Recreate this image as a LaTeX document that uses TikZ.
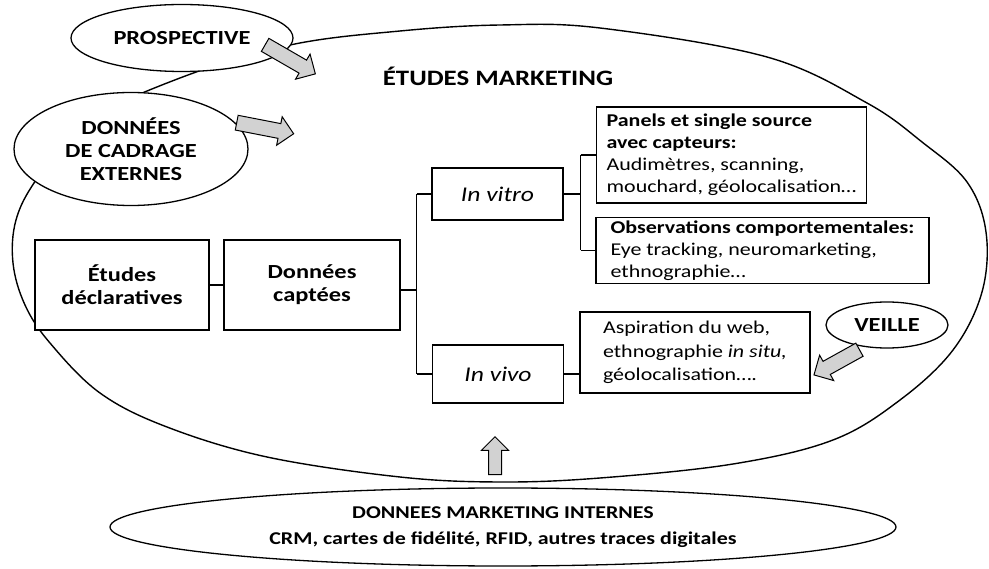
\documentclass[tikz,border=0pt]{standalone}
\usepackage{fontspec}
\setmainfont{Carlito}[FakeStretch=1.22]
\usetikzlibrary{shapes.geometric,shapes.arrows}
\begin{document}
\begin{tikzpicture}[x=1pt,y=-1pt,
  capsfont/.style={font=\fontsize{20}{23}\selectfont\bfseries},
  boxfont/.style={font=\fontsize{18}{22}\selectfont},
  oval/.style={ellipse, draw, line width=1.3pt, fill=white, inner sep=0pt},
  box/.style={draw, line width=1.4pt, fill=white, inner sep=0pt},
  link/.style={line width=1.4pt},
  blockarrow/.style={single arrow, draw, line width=1pt, fill=gray!35,
    inner xsep=0pt, inner ysep=7pt, single arrow head extend=7pt}
]
\useasboundingbox (0,0) rectangle (989,569);

% the large hand-drawn oval holding the marketing studies
\draw[line width=1.4pt] plot[smooth cycle, tension=0.6] coordinates {
  (500,25) (600,28) (767,57) (867,103) (922,142) (967,182) (986,232)
  (982,292) (953,350) (900,400) (833,440) (733,464) (600,478) (500,482)
  (400,477) (267,457) (167,427) (100,393) (50,343) (25,305) (13,263)
  (16,220) (36,180) (80,125) (180,78) (290,45) (400,31)};
\node[font=\fontsize{22}{26}\selectfont\bfseries] (titre) at (498,76) {ÉTUDES MARKETING};

% outside sources
\node[oval, capsfont, minimum width=222pt, minimum height=67pt] (prosp) at (182,38) {PROSPECTIVE};
\node[oval, capsfont, align=center, minimum width=234pt, minimum height=113pt] (cadrage) at (131,149)
  {DONNÉES\\DE CADRAGE\\EXTERNES};
\node[oval, font=\fontsize{18}{26}\selectfont\bfseries, align=center, minimum width=786pt, minimum height=78pt] (internes) at (503,527)
  {DONNEES MARKETING INTERNES\\CRM, cartes de fidélité, RFID, autres traces digitales};
\node[oval, font=\fontsize{20}{22}\selectfont\bfseries, minimum width=122pt, minimum height=46pt] (veille) at (887,325) {VEILLE};

% boxes of the tree
\node[box, capsfont, align=center, minimum width=174pt, minimum height=90pt] (decl) at (122,285)
  {Études\\déclaratives};
\node[box, capsfont, align=center, minimum width=176pt, minimum height=90pt] (capt) at (312,285)
  {Données\\captées};
\node[box, font=\fontsize{21}{24}\selectfont\itshape, minimum width=131pt, minimum height=52pt] (vitro) at (497.5,194) {In vitro};
\node[box, font=\fontsize{21}{24}\selectfont\itshape, minimum width=131pt, minimum height=58pt] (vivo) at (498,374) {In vivo};
\node[box, boxfont, align=left, minimum width=270pt, minimum height=96pt] (panels) at (731.5,155)
  {\textbf{Panels et single source}\\\textbf{avec capteurs:}\\Audimètres, scanning,\\mouchard, géolocalisation…};
\node[box, boxfont, align=left, minimum width=333pt, minimum height=66pt] (obs) at (762.5,250.5)
  {\textbf{Observations comportementales:}\\Eye tracking, neuromarketing,\\ethnographie…};
\node[box, align=left, minimum width=230pt, minimum height=81pt, font=\fontsize{18}{23.5}\selectfont] (aspi) at (695,352.5)
  {Aspiration du web,\\ethnographie \textit{in situ,}\\géolocalisation….};

% tree connectors
\draw[link] (decl.east) -- (capt.west);
\draw[link] (capt.east) ++(0,5) -- ++(16,0) coordinate (j1);
\draw[link] (j1 |- vitro.west) -- (j1 |- vivo.west);
\draw[link] (j1 |- vitro.west) -- (vitro.west);
\draw[link] (j1 |- vivo.west) -- (vivo.west);
\draw[link] (vitro.east) -- ++(17,0) coordinate (j2);
\draw[link] (j2 |- panels.west) -- (j2 |- obs.west);
\draw[link] (j2 |- panels.west) -- (panels.west);
\draw[link] (j2 |- obs.west) -- (obs.west);
\draw[link] (vivo.east) -- (vivo.east -| aspi.west);

% block arrows feeding the studies
\node[blockarrow, rotate=-30, minimum height=58pt] (arrP) at (287,57.5) {};
\node[blockarrow, rotate=-11, minimum height=58pt] (arrD) at (261.5,127.5) {};
\node[blockarrow, rotate=-151, minimum height=52pt] (arrV) at (840,360.5) {};
\node[blockarrow, rotate=90, minimum height=38pt, inner ysep=6pt, single arrow head extend=7pt] (arrI) at (495,459) {};
\end{tikzpicture}
\end{document}
